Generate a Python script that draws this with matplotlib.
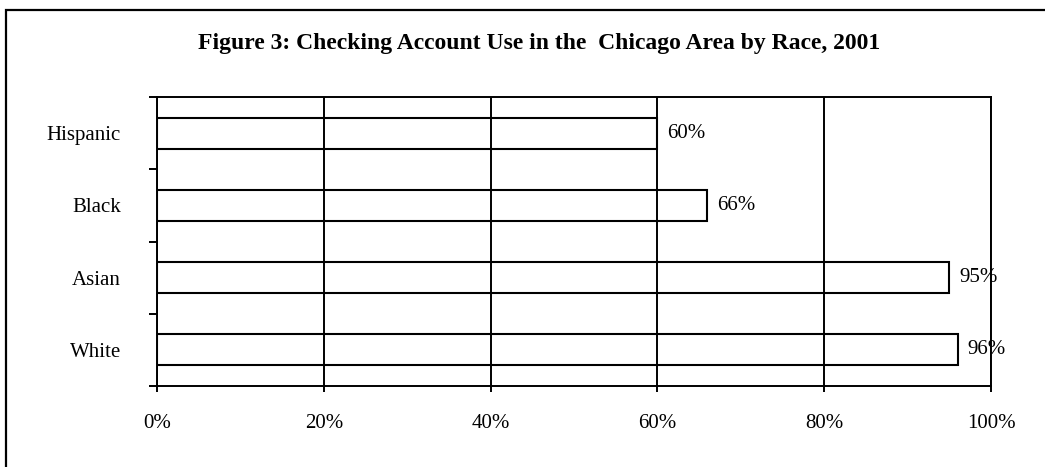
import matplotlib.pyplot as plt
from matplotlib.patches import Rectangle
from matplotlib.ticker import FixedLocator, PercentFormatter

races = ['White', 'Asian', 'Black', 'Hispanic']  # bottom to top
usage = [96, 95, 66, 60]  # percent with a checking account

plt.rcParams['font.family'] = ['Liberation Serif', 'DejaVu Serif']

fig = plt.figure(figsize=(10.45, 4.67), dpi=100)
ax = fig.add_axes([157 / 1045, 81 / 467, 834 / 1045, 289 / 467])

# outer frame of the figure (left and top edges visible)
fig.patches.append(Rectangle((6 / 1045, -0.1), 1.2, 1.1 - 10 / 467, transform=fig.transFigure,
                             fill=False, edgecolor='black', linewidth=1.6))

pos = list(range(len(races)))
bars = ax.barh(pos, usage, height=0.43, facecolor='none', edgecolor='black', linewidth=1.5)
ax.bar_label(bars, labels=[f'{v}%' for v in usage], padding=7, fontsize=15)

ax.set_xlim(0, 100)
ax.set_ylim(-0.5, len(races) - 0.5)
ax.set_xticks([0, 20, 40, 60, 80, 100])
ax.xaxis.set_major_formatter(PercentFormatter(decimals=0))
ax.tick_params(axis='x', direction='out', length=4.5, width=1.4, pad=16, labelsize=15)

# category boundaries get the ticks, category centres get the labels
ax.yaxis.set_major_locator(FixedLocator([p - 0.5 for p in pos] + [len(races) - 0.5]))
ax.yaxis.set_minor_locator(FixedLocator(pos))
ax.set_yticklabels([], minor=False)
ax.set_yticklabels(races, minor=True)
ax.tick_params(axis='y', which='major', direction='out', length=6, width=1.4)
ax.tick_params(axis='y', which='minor', length=0, pad=26, labelsize=15)

ax.set_axisbelow(False)
ax.grid(axis='x', color='black', linewidth=1.4)
for s in ax.spines.values():
    s.set_linewidth(1.4)

fig.text(539 / 1045, 1 - 44 / 467, 'Figure 3: Checking Account Use in the  Chicago Area by Race, 2001',
         ha='center', va='center', fontsize=17, fontweight='bold')

fig.savefig('out.png', dpi=100)
